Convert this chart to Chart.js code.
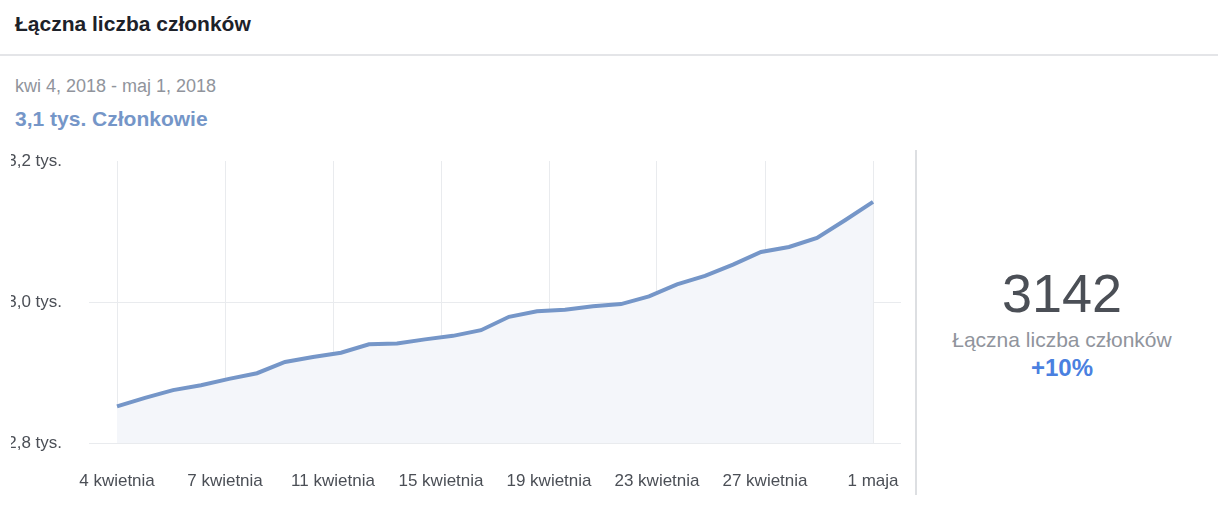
<!DOCTYPE html>
<html lang="pl">
<head>
<meta charset="utf-8">
<title>Łączna liczba członków</title>
<script src="https://cdn.jsdelivr.net/npm/chart.js@4.4.0/dist/chart.umd.min.js"></script>
<style>
  html, body { margin: 0; padding: 0; background: #fff; }
  body { width: 1218px; height: 521px; position: relative; overflow: hidden;
         font-family: "Liberation Sans", Arial, sans-serif; }
  .title { position: absolute; left: 15px; top: 12px; font-size: 21px; font-weight: bold; color: #1d2129; }
  .sep { position: absolute; left: 0; right: 0; top: 54px; height: 2px; background: #e4e5e8; }
  .range { position: absolute; left: 15px; top: 76px; font-size: 18px; color: #90949c; }
  .summary { position: absolute; left: 15px; top: 107px; font-size: 21px; font-weight: bold; color: #7596c8; }
  .chart-box { position: absolute; left: 11px; top: 150px; width: 899px; height: 350px; }
  .vsep { position: absolute; left: 915px; top: 150px; width: 2px; height: 345px; background: #dddfe2; }
  .side { position: absolute; left: 917px; width: 290px; text-align: center; }
  .big { top: 262px; font-size: 54px; color: #4b4f56; }
  .lbl { top: 328px; font-size: 21px; color: #90949c; }
  .pct { top: 354px; font-size: 24px; font-weight: bold; color: #4a80e0; }
</style>
</head>
<body>
<div class="title">Łączna liczba członków</div>
<div class="sep"></div>
<div class="range">kwi 4, 2018 - maj 1, 2018</div>
<div class="summary">3,1 tys. Członkowie</div>
<div class="chart-box"><canvas id="membersChart"></canvas></div>
<div class="vsep"></div>
<div class="side big">3142</div>
<div class="side lbl">Łączna liczba członków</div>
<div class="side pct">+10%</div>
<script>
// one point per day, 4 kwietnia .. 1 maja
const days = [
    '4 kwi', '5 kwi', '6 kwi', '7 kwi', '8 kwi', '9 kwi', '10 kwi', '11 kwi', '12 kwi', '13 kwi',
    '14 kwi', '15 kwi', '16 kwi', '17 kwi', '18 kwi', '19 kwi', '20 kwi', '21 kwi', '22 kwi', '23 kwi',
    '24 kwi', '25 kwi', '26 kwi', '27 kwi', '28 kwi', '29 kwi', '30 kwi', '1 maj'
];
const members = [
    2852, 2864, 2875, 2882, 2891, 2899, 2915, 2922, 2928, 2940,
    2941, 2947, 2952, 2960, 2979, 2987, 2989, 2994, 2997, 3008,
    3025, 3037, 3053, 3071, 3078, 3091, 3116, 3142
];
const xTickLabels = ['4 kwietnia', '7 kwietnia', '11 kwietnia', '15 kwietnia', '19 kwietnia', '23 kwietnia', '27 kwietnia', '1 maja'];
const yTickValues = [2800, 3000, 3200];
const yTickLabels = ['2,8 tys.', '3,0 tys.', '3,2 tys.'];

document.addEventListener("DOMContentLoaded", () => {
    const last = days.length - 1;
    // x ticks spread evenly over the date range
    const xTickPos = xTickLabels.map((_, i) => i * last / (xTickLabels.length - 1));

    const ctx = document.getElementById('membersChart').getContext('2d');
    new Chart(ctx, {
        type: 'line',
        data: {
            datasets: [{
                label: 'Łączna liczba członków',
                data: members.map((v, i) => ({ x: i, y: v })),
                borderColor: '#7596c8',
                backgroundColor: '#f4f6fa',
                borderWidth: 4,
                pointRadius: 0,
                fill: 'start',
                tension: 0
            }]
        },
        options: {
            responsive: true,
            maintainAspectRatio: false,
            animation: false,
            layout: { padding: { top: 11, right: 9, left: 0, bottom: 0 } },
            plugins: { legend: { display: false }, tooltip: { enabled: false } },
            scales: {
                x: {
                    type: 'linear',
                    min: -1,
                    max: last + 1,
                    afterBuildTicks: s => { s.ticks = xTickPos.map(v => ({ value: v })); },
                    afterFit: s => { s.height = 57; s.paddingLeft = 0; s.paddingRight = 0; },
                    grid: { color: '#e9ebee', drawTicks: false },
                    border: { display: false },
                    ticks: {
                        autoSkip: false, maxRotation: 0, padding: 28,
                        color: '#4b4f56', font: { family: 'Liberation Sans', size: 17 },
                        callback: (v, i) => xTickLabels[i]
                    }
                },
                y: {
                    min: 2800,
                    max: 3200,
                    afterBuildTicks: s => { s.ticks = yTickValues.map(v => ({ value: v })); },
                    afterFit: s => { s.width = 78; s.paddingTop = 0; s.paddingBottom = 0; },
                    grid: {
                        drawTicks: false,
                        color: c => c.tick && c.tick.value === 3200 ? 'rgba(0,0,0,0)' : '#e9ebee'
                    },
                    border: { display: false },
                    ticks: {
                        padding: 27, color: '#4b4f56', font: { family: 'Liberation Sans', size: 17 },
                        callback: (v, i) => yTickLabels[i]
                    }
                }
            }
        }
    });
});
</script>
</body>
</html>
